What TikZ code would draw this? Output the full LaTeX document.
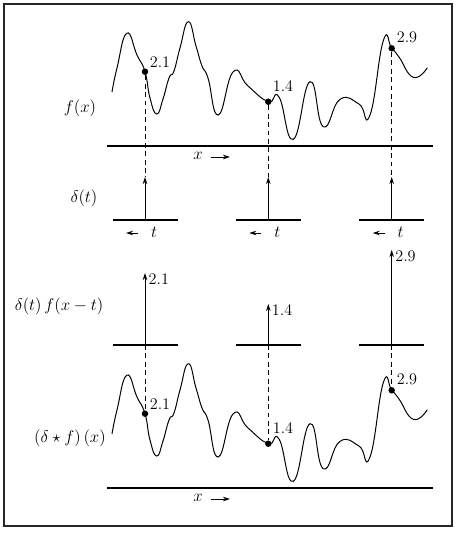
\documentclass[tikz,border=0pt]{standalone}
\usepackage{amsmath,amssymb}
\usepackage{tikz}
\usetikzlibrary{positioning,arrows.meta}
\usepackage{xcolor}

\begin{document}
\begin{tikzpicture}[x=0.025cm,y=-0.025cm,>={Stealth[length=5pt,width=3.2pt]},
  font=\fontsize{11.5}{13}\selectfont,
  axis/.style={line width=1.4pt},
  spike/.style={->,line width=0.6pt},
  guide/.style={dash pattern=on 3.5pt off 2.5pt,line width=0.6pt},
  dot/.style={circle,fill,inner sep=0pt,minimum size=4.6pt},
  curve/.style={line width=0.7pt}]
\useasboundingbox (0,0) rectangle (460,535);
\draw[line width=1.2pt,black!85] (4,4) rectangle (452,526);
% the signal f(x), and the same signal after the convolution
\foreach \dy/\s in {0/a,342/b}{
\begin{scope}[shift={(0,\dy)}]
\draw[curve] plot[smooth,tension=0.85] coordinates {(112,92) (117,68) (126.7,33.3) (137,55) (145,71.7) (150,98) (156.7,114) (163,99) (169,78) (174,71) (180,48) (188.3,21.7) (196,46) (202,66) (208,78) (218.3,115) (233.3,71.7) (248,86) (268.3,101.7) (279,97) (293.3,139.3) (310,81.7) (323.3,126.7) (340,99.3) (359,104) (370,115) (383.3,40.7) (391.7,48.3) (399,57) (413.3,77.3) (427.3,67.7)};
\node[dot] (d1\s) at (145,71.7) {};
\node[dot] (d2\s) at (268.3,101.7) {};
\node[dot] (d3\s) at (391.7,48.3) {};
\node at (160,62) {2.1};
\node at (283,86) {1.4};
\node at (407,37) {2.9};
\draw[axis] (107,146) -- (433,146);
\node (x\s) at (198,156) {$x$};
\coordinate (xs\s) at (211,157);
\coordinate (xe\s) at (230,157);
\draw[->,line width=0.6pt] (xs\s) -- (xe\s);
\end{scope}
}
\node at (80,108) {$f(x)$};
\node at (84,198) {$\delta(t)$};
\node at (59,306) {$\delta(t)\,f(x-t)$};
\node at (70,438) {$(\delta\star f)\,(x)$};
% the three impulses and the scaled impulses
\foreach \x/\i/\h/\v in {145/1/273/2.1,268.3/2/304/1.4,391.7/3/250/2.9}{
\draw[axis] (\x-32.5,220) -- (\x+32.5,220);
\coordinate (b\i) at (\x,220);
\coordinate (t\i) at (\x,177);
\draw[spike] (b\i) -- (t\i);
\coordinate (ts\i) at (\x-7,233);
\coordinate (te\i) at (\x-19,233);
\draw[->,line width=0.6pt] (ts\i) -- (te\i);
\node at (\x+9,232) {$t$};
\draw[axis] (\x-32.5,345) -- (\x+32.5,345);
\coordinate (c\i) at (\x,345);
\coordinate (s\i) at (\x,\h);
\draw[spike] (c\i) -- (s\i);
\node[anchor=north west,inner sep=1pt] at (\x+2,\h-1) {\v};
\draw[guide] (d\i a) -- (t\i);
\draw[guide] (c\i) -- (d\i b);
}
\end{tikzpicture}
\end{document}
